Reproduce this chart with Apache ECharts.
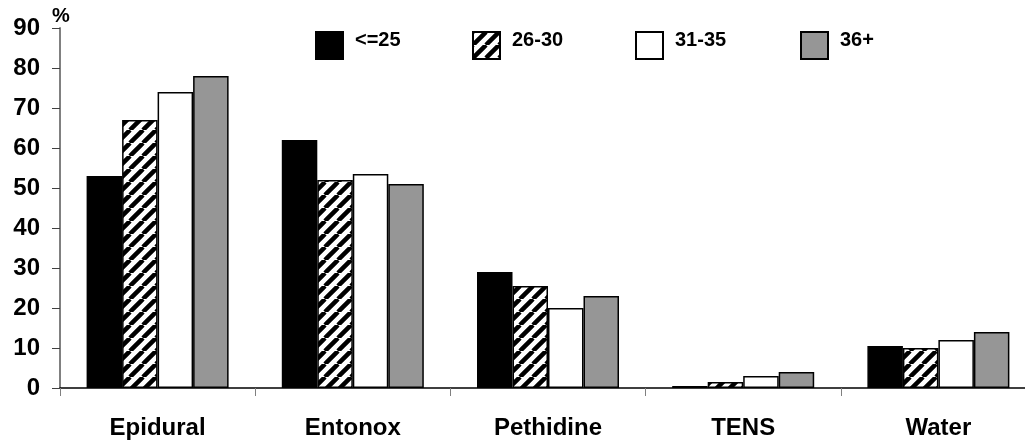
<!DOCTYPE html>
<html>
<head>
<meta charset="utf-8">
<script src="https://cdn.jsdelivr.net/npm/echarts@6/dist/echarts.min.js"></script>
<style>
  html, body { margin: 0; padding: 0; background: #fff; overflow: hidden; }
  /* the plot runs slightly past the right edge of the window */
  #chart { width: 1036px; height: 443px; }
</style>
</head>
<body>
<div id="chart"></div>
<script>
// Pain relief methods used, by maternal age group (%)
const categories = ['Epidural', 'Entonox', 'Pethidine', 'TENS', 'Water'];
const ageGroups = ['<=25', '26-30', '31-35', '36+'];
const age25AndUnder = [53, 62, 29, 0.5, 10.5];
const age26to30 = [67, 52, 25.5, 1.5, 10];
const age31to35 = [74, 53.5, 20, 3, 12];
const age36Plus = [78, 51, 23, 4, 14];
const yMin = 0, yMax = 90, yStep = 10;

const FONT = '"Liberation Sans", Arial, sans-serif';

// Diagonal "/" hatch tile for the 26-30 series
function hatchTile() {
  const s = 13;
  const c = document.createElement('canvas');
  c.width = s; c.height = s;
  const g = c.getContext('2d');
  g.fillStyle = '#fff';
  g.fillRect(0, 0, s, s);
  g.strokeStyle = '#000';
  g.lineWidth = 4.5;
  g.beginPath();
  for (const k of [-1, 0, 1]) {
    g.moveTo(k * s, s);
    g.lineTo(k * s + s, 0);
  }
  g.stroke();
  return c;
}

const fills = ['#000000', { image: hatchTile(), repeat: 'repeat' }, '#ffffff', '#969696'];
const seriesData = [age25AndUnder, age26to30, age31to35, age36Plus];
const legendLeft = [315, 472, 635, 800];

const chart = echarts.init(document.getElementById('chart'), null, { renderer: 'canvas' });

chart.setOption({
  animation: false,
  backgroundColor: '#fff',
  textStyle: { fontFamily: FONT },
  grid: { left: 60, top: 28, right: 0, bottom: 55, containLabel: false },
  legend: ageGroups.map((name, i) => ({
    data: [name],
    left: legendLeft[i],
    top: 30,
    padding: 0,
    itemWidth: 27,
    itemHeight: 27,
    icon: 'rect',
    selectedMode: false,
    formatter: n => '{t|' + n + '}',
    textStyle: {
      rich: {
        t: {
          fontFamily: FONT, fontSize: 20, fontWeight: 'bold', color: '#000',
          padding: [0, 0, 11, 7]
        }
      }
    }
  })),
  xAxis: {
    type: 'category',
    data: categories,
    axisLine: { lineStyle: { color: '#000', width: 1.5 } },
    axisTick: { show: true, length: 8, interval: 0, lineStyle: { color: '#808080', width: 1 } },
    axisLabel: { interval: 0, margin: 28, fontFamily: FONT, fontSize: 24, fontWeight: 'bold', color: '#000' },
    splitLine: { show: false }
  },
  yAxis: {
    type: 'value',
    min: yMin, max: yMax, interval: yStep,
    name: '%',
    nameLocation: 'end',
    nameGap: 2,
    nameTextStyle: { fontFamily: FONT, fontSize: 20, fontWeight: 'bold', color: '#000', align: 'left', padding: [0, 0, 0, -8] },
    axisLine: { show: true, lineStyle: { color: '#808080', width: 2 } },
    axisTick: { show: true, length: 8, lineStyle: { color: '#404040', width: 1 } },
    axisLabel: { margin: 20, fontFamily: FONT, fontSize: 24, fontWeight: 'bold', color: '#000' },
    splitLine: { show: false }
  },
  series: ageGroups.map((name, i) => ({
    name: name,
    type: 'bar',
    data: seriesData[i],
    barWidth: 35.5,
    barGap: '0%',
    itemStyle: { color: fills[i], borderColor: '#000', borderWidth: 1.5 },
    emphasis: { disabled: true }
  }))
});
</script>
</body>
</html>
